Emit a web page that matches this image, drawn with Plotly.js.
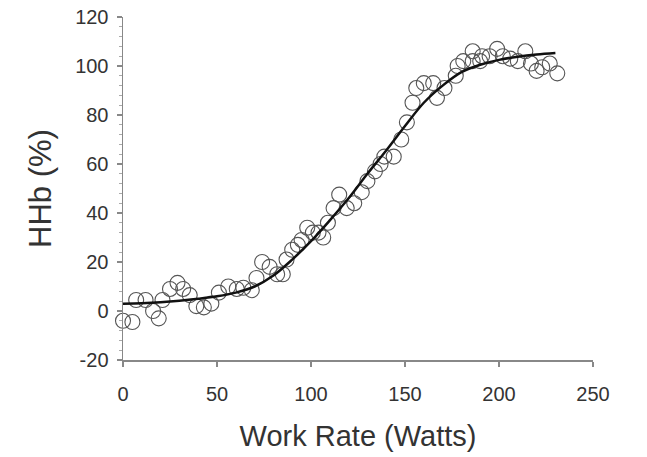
<!DOCTYPE html>
<html>
<head>
<meta charset="utf-8">
<script src="https://cdn.plot.ly/plotly-3.0.1.min.js"></script>
<style>html,body{margin:0;padding:0;background:#fff;}#chart{width:647px;height:457px;}</style>
</head>
<body>
<div id="chart"></div>
<script>
// Observed HHb data points (Work Rate W, HHb %)
const workRate = [0,5,7,12,16,19,21,25,29,32,35.5,39,43,47,51,56,60.5,64,68.5,71,74,78,82,85,87,90,93,95,98,101,104,106.5,109,112,115,119,123,127,130,134,137,139,144,148,151,154,156,160,165,167,171,177,178,181,186,186,190,191,195,199,202,206,210,214,217,220,223,227,231];
const hhb = [-4,-4.5,4.5,4.5,0,-3,4.5,9,11.5,9,6.5,2,1.5,3,7.5,10,9,9.5,8.5,13.5,20,18,15,15,21,25,27,29,34,32,32,30,36,42,47.5,42,44,48.5,53,57,60,63,63,70,77,85,91,93,93,87,91,96,100,102,106,102,102,104,104,107,104,103,102,106,101,98,99.5,101,97];

// Fitted curve
const fitW = [0,10,20,30,40,50,60,70,80,90,100,110,120,130,140,150,160,170,180,190,200,210,220,230];
const fitH = [3,3.2,3.6,4.2,5,6,7.5,10,14.5,21,28.5,37,46,56,65.5,75.5,85,92,97.5,100.5,102.5,103.8,104.7,105.3];

const xTicks = [0,50,100,150,200,250];
const yTicks = [-20,0,20,40,60,80,100,120];

const traces = [
  {x: workRate, y: hhb, type: 'scatter', mode: 'markers',
   marker: {symbol: 'circle-open', size: 15, color: '#555', line: {width: 1.1, color: '#555'}},
   hoverinfo: 'x+y', showlegend: false, cliponaxis: false},
  {x: fitW, y: fitH, type: 'scatter', mode: 'lines',
   line: {color: '#111', width: 2.5, shape: 'spline', smoothing: 1},
   showlegend: false}
];

const layout = {
  width: 647, height: 457,
  margin: {l: 123, r: 54, t: 17, b: 97},
  paper_bgcolor: '#fff', plot_bgcolor: '#fff',
  font: {family: 'Liberation Sans, Arial, sans-serif', color: '#333'},
  xaxis: {
    range: [0, 250], tickvals: xTicks, ticktext: xTicks.map(String),
    showgrid: false, zeroline: false, showline: true, linecolor: '#888', linewidth: 1.5,
    ticks: 'outside', ticklen: 5, tickcolor: '#888', tickwidth: 1.5,
    tickfont: {size: 20, color: '#333'}, ticklabelstandoff: 10,
    title: {text: 'Work Rate (Watts)', font: {size: 29, color: '#333'}, standoff: 22},
    automargin: false
  },
  yaxis: {
    range: [-20, 120], tickmode: 'array', tickvals: yTicks, ticktext: yTicks.map(String),
    showgrid: false, zeroline: false, showline: true, linecolor: '#888', linewidth: 1.5,
    ticks: 'outside', ticklen: 5, tickcolor: '#888', tickwidth: 1.5,
    minor: {tickmode: 'linear', ticks: 'outside', dtick: 4, tick0: -20, ticklen: 2.5, tickcolor: '#aaa', tickwidth: 1, showgrid: false},
    tickfont: {size: 20, color: '#333'}, ticklabelstandoff: 4,
    title: {text: 'HHb (%)', font: {size: 31, color: '#333'}, standoff: 14},
    automargin: false
  }
};

Plotly.newPlot('chart', traces, layout, {displayModeBar: false, staticPlot: true});
</script>
</body>
</html>
